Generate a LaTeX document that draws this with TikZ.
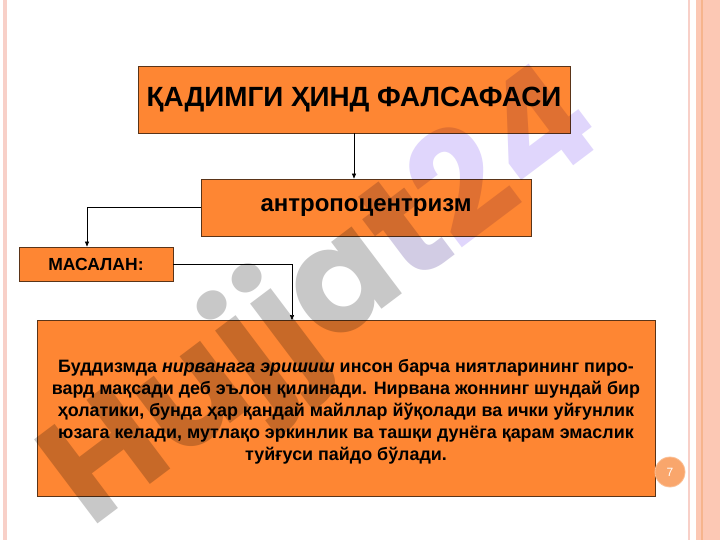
\documentclass[tikz,border=0pt]{standalone}
\usepackage{fontspec}
\setmainfont{Liberation Sans}
\newfontfamily\wmfont{Poppins}
\usetikzlibrary{arrows.meta}
\definecolor{boxorange}{HTML}{FE8633}
\definecolor{boxedge}{HTML}{5A3418}
\definecolor{pinkline}{HTML}{F8D0C8}
\definecolor{pinkband}{HTML}{FCC8B4}
\definecolor{bandline}{HTML}{F6B48C}
\definecolor{pagecirc}{HTML}{F9A66C}
\definecolor{wmgray}{HTML}{C8C8C8}
\definecolor{wmmid}{HTML}{D2CCE4}
\definecolor{wmlav}{HTML}{E0D6FC}
\tikzset{
  obox/.style={draw=boxedge, line width=0.8pt, fill=boxorange, inner sep=0pt, align=center, text=black},
  conn/.style={draw=black, line width=0.6pt, -{Triangle[length=5pt,width=4pt]}},
}
\begin{document}
\begin{tikzpicture}[x=1pt,y=-1pt]
\useasboundingbox (0,0) rectangle (720,540);
\fill[white] (0,0) rectangle (720,540);
% slide frame
\fill[pinkline] (3,0) rectangle (7,540);
\fill[pinkline] (688,0) rectangle (690,540);
\fill[pinkband] (696,0) rectangle (720,540);
\fill[bandline] (701,0) rectangle (703,540);

\node[obox, minimum width=432pt, minimum height=67pt, font=\bfseries\fontsize{27.8}{32}\selectfont] (title) at (354,99.5) {ҚАДИМГИ ҲИНД ФАЛСАФАСИ};
\node[obox, minimum width=330pt, minimum height=57pt, font=\bfseries\fontsize{24}{28}\selectfont] (anthro) at (366,207.5) {антропоцентризм};
\node[obox, minimum width=154pt, minimum height=34pt, font=\bfseries\fontsize{17.5}{21}\selectfont] (masalan) at (96,264) {МАСАЛАН:};
\node[obox, minimum width=618pt, minimum height=176pt] (body) at (346,408.5) {};
\node[align=center, inner sep=0pt, font=\bfseries\fontsize{17.9}{21.9}\selectfont, yshift=-3.5pt] (bodytext) at (body.center) {Буддизмда \textit{нирванага эришиш} инсон барча ниятларининг пиро-\\вард мақсади деб эълон қилинади. Нирвана жоннинг шундай бир\\ ҳолатики, бунда ҳар қандай майллар йўқолади ва ички уйғунлик\\ юзага келади, мутлақо эркинлик ва ташқи дунёга қарам эмаслик\\ туйғуси пайдо бўлади.};

\draw[conn] (title.south) -- (title.south |- anthro.north);
\draw[conn] (anthro.west) -| ([xshift=-9pt]masalan.north);
\draw[conn] (masalan.east) -| ([xshift=-54pt]body.north);

\node[circle, fill=pagecirc, draw=pagecirc!70, line width=0.8pt, minimum size=30pt, inner sep=0pt, text=white, font=\fontsize{12}{14}\selectfont] (page) at (670,472) {7};

\begin{scope}[blend mode=multiply]
\node[rotate=37, anchor=base west, font=\wmfont\bfseries\fontsize{150}{150}\selectfont, inner sep=0pt] (wm) at (90,530) {\textcolor{wmgray}{Hujja}\textcolor{wmmid}{t}\textcolor{wmlav}{24}};
\end{scope}
\end{tikzpicture}
\end{document}
